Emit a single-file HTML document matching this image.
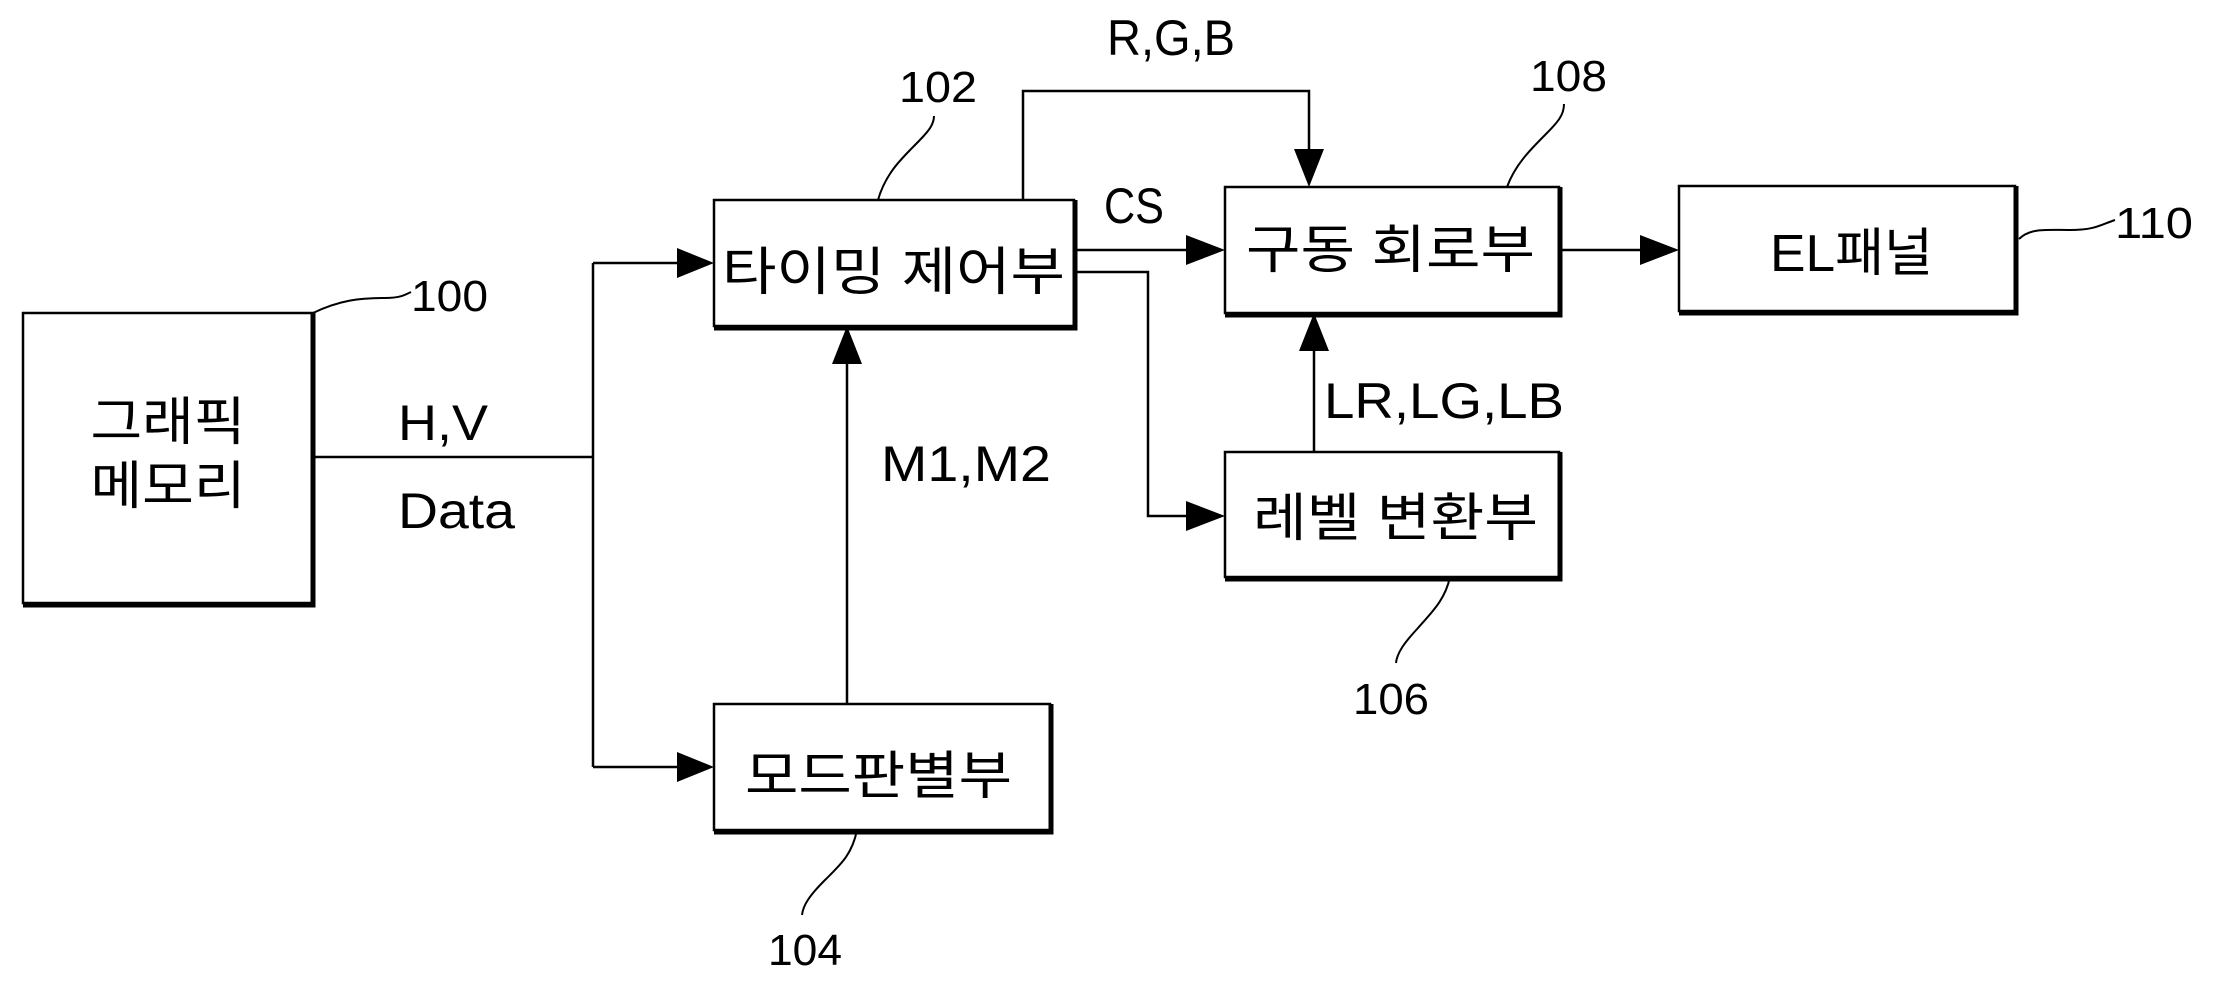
<!DOCTYPE html>
<html><head><meta charset="utf-8"><style>
html,body{margin:0;padding:0;background:#fff;}
svg{display:block;}
text{font-family:"Liberation Sans","Noto Sans CJK KR",sans-serif;fill:#000;}
</style></head><body>
<svg width="2217" height="986" viewBox="0 0 2217 986" xmlns="http://www.w3.org/2000/svg">
<g fill="none" stroke="#000" stroke-width="2.5">
<rect x="23" y="313" width="290" height="290"/>
<rect x="714" y="200" width="360" height="126"/>
<rect x="714" y="704" width="336" height="126"/>
<rect x="1225" y="187" width="334" height="126"/>
<rect x="1225" y="452" width="334" height="125"/>
<rect x="1679" y="186" width="336" height="125"/>
</g>
<g fill="none" stroke="#000" stroke-width="5">
<path d="M313 313 V605 H23"/>
<path d="M1075 200 V328 H714"/>
<path d="M1051 704 V832 H714"/>
<path d="M1560 187 V315 H1225"/>
<path d="M1560 452 V579 H1225"/>
<path d="M2016 186 V313 H1679"/>
</g>
<g fill="none" stroke="#000" stroke-width="2.5">
<path d="M313 457 H593"/>
<path d="M593 263 V767"/>
<path d="M593 263 H680"/>
<path d="M593 767 H680"/>
<path d="M847 704 V362"/>
<path d="M1023 200 V91 H1309 V152"/>
<path d="M1074 250 H1188"/>
<path d="M1074 272 H1148 V516 H1188"/>
<path d="M1314 452 V350"/>
<path d="M1559 250 H1642"/>
<path d="M313 313 C340 300 360 298 385 298 C400 298 405 295 411 292" stroke-width="2"/>
<path d="M878 200 C885 175 900 160 915 145 C928 132 934 125 934 116" stroke-width="2"/>
<path d="M857 830 C852 855 840 865 825 880 C810 895 803 905 802 915" stroke-width="2"/>
<path d="M1507 187 C1515 165 1530 150 1545 135 C1558 122 1564 115 1564 104" stroke-width="2"/>
<path d="M2019 239 C2030 228 2045 230 2070 230 C2095 230 2100 225 2115 220" stroke-width="2"/>
<path d="M1450 577 C1445 600 1432 612 1418 628 C1404 643 1397 653 1396 663" stroke-width="2"/>
</g>
<g fill="#000">
<polygon points="714,263 677,248 677,278"/>
<polygon points="714,767 677,752 677,782"/>
<polygon points="847,326 832,364 862,364"/>
<polygon points="1309,187 1294,149 1324,149"/>
<polygon points="1225,250 1186,235 1186,265"/>
<polygon points="1225,516 1186,501 1186,531"/>
<polygon points="1314,313 1299,351 1329,351"/>
<polygon points="1679,250 1640,235 1640,265"/>
</g>
<g font-size="52">
<text x="168" y="440" text-anchor="middle" textLength="155" lengthAdjust="spacingAndGlyphs">그래픽</text>
<text x="168" y="504" text-anchor="middle" textLength="155" lengthAdjust="spacingAndGlyphs">메모리</text>
<text x="722" y="290" textLength="343" lengthAdjust="spacingAndGlyphs">타이밍 제어부</text>
<text x="745" y="794" textLength="267" lengthAdjust="spacingAndGlyphs">모드판별부</text>
<text x="1246" y="268" textLength="289" lengthAdjust="spacingAndGlyphs">구동 회로부</text>
<text x="1253" y="536" textLength="285" lengthAdjust="spacingAndGlyphs">레벨 변환부</text>
<text x="1770" y="271" textLength="163" lengthAdjust="spacingAndGlyphs">EL패널</text>
</g>
<g font-size="50">
<text x="398" y="440" textLength="90" lengthAdjust="spacingAndGlyphs">H,V</text>
<text x="398" y="528" textLength="117" lengthAdjust="spacingAndGlyphs">Data</text>
<text x="881" y="481" textLength="170" lengthAdjust="spacingAndGlyphs">M1,M2</text>
<text x="1107" y="55" textLength="128" lengthAdjust="spacingAndGlyphs">R,G,B</text>
<text x="1104" y="223" textLength="60" lengthAdjust="spacingAndGlyphs">CS</text>
<text x="1324" y="418" textLength="240" lengthAdjust="spacingAndGlyphs">LR,LG,LB</text>
</g>
<g font-size="44">
<text x="411" y="311" textLength="77" lengthAdjust="spacingAndGlyphs">100</text>
<text x="899" y="102" textLength="78" lengthAdjust="spacingAndGlyphs">102</text>
<text x="768" y="965" textLength="74" lengthAdjust="spacingAndGlyphs">104</text>
<text x="1353" y="714" textLength="76" lengthAdjust="spacingAndGlyphs">106</text>
<text x="1530" y="91" textLength="77" lengthAdjust="spacingAndGlyphs">108</text>
<text x="2115" y="238" textLength="78" lengthAdjust="spacingAndGlyphs">110</text>
</g>
</svg>
</body></html>
